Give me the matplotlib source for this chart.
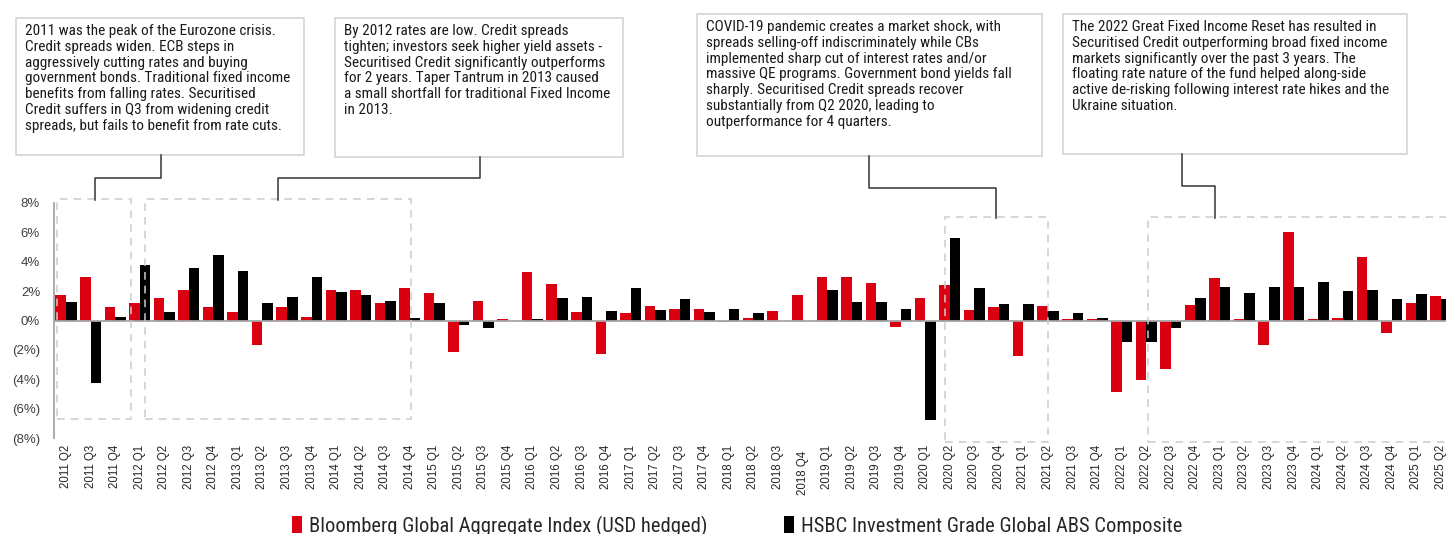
import matplotlib
matplotlib.use("Agg")
import matplotlib.pyplot as plt
from matplotlib.patches import Rectangle
from matplotlib.lines import Line2D
from matplotlib.transforms import ScaledTranslation
import numpy as np

plt.rcParams["font.family"] = ["Liberation Sans", "DejaVu Sans"]

# quarterly returns (%), 2011 Q2 .. 2025 Q2
quarters = ["2011 Q2", "2011 Q3", "2011 Q4"]
for yr in range(2012, 2025):
    quarters += ["%d Q%d" % (yr, q) for q in range(1, 5)]
quarters += ["2025 Q1", "2025 Q2"]

bbg_agg = [1.75, 2.95, 0.89, 1.2, 1.52, 2.05, 0.89, 0.57, -1.66, 0.89, 0.27, 2.05, 2.05,
           1.2, 2.2, 1.89, -2.14, 1.34, 0.11, 3.3, 2.5, 0.57, -2.27, 0.5, 1.02, 0.8, 0.8,
           -0.11, 0.18, 0.64, 1.73, 2.95, 2.95, 2.57, -0.41, 1.52, 2.43, 0.73, 0.89, -2.43,
           1.02, 0.11, 0.11, -4.9, -4.05, -3.3, 1.05, 2.89, 0.11, -1.7, 6.0, 0.11, 0.18,
           4.3, -0.86, 1.2, 1.66]
hsbc_abs = [1.25, -4.27, 0.27, 3.75, 0.57, 3.59, 4.45, 3.36, 1.18, 1.59, 2.95, 1.95, 1.73,
            1.34, 0.18, 1.2, -0.34, -0.5, 0.0, 0.1, 1.52, 1.59, 0.64, 2.2, 0.73, 1.43, 0.57,
            0.8, 0.5, 0.0, 0.0, 2.05, 1.25, 1.25, 0.8, -6.75, 5.61, 2.2, 1.11, 1.11,
            0.64, 0.5, 0.18, -1.43, -1.43, -0.5, 1.52, 2.27, 1.89, 2.27, 2.27, 2.59, 1.98,
            2.05, 1.43, 1.8, 1.43]

series_names = ["Bloomberg Global Aggregate Index (USD hedged)",
                "HSBC Investment Grade Global ABS Composite"]

notes = [
    "2011 was the peak of the Eurozone crisis.\nCredit spreads widen. ECB steps in\n"
    "aggressively cutting rates and buying\ngovernment bonds. Traditional fixed income\n"
    "benefits from falling rates. Securitised\nCredit suffers in Q3 from widening credit\n"
    "spreads, but fails to benefit from rate cuts.",
    "By 2012 rates are low. Credit spreads\ntighten; investors seek higher yield assets -\n"
    "Securitised Credit significantly outperforms\nfor 2 years. Taper Tantrum in 2013 caused\n"
    "a small shortfall for traditional Fixed Income\nin 2013.",
    "COVID-19 pandemic creates a market shock, with\nspreads selling-off indiscriminately while CBs\n"
    "implemented sharp cut of interest rates and/or\nmassive QE programs. Government bond yields fall\n"
    "sharply. Securitised Credit spreads recover\nsubstantially from Q2 2020, leading to\n"
    "outperformance for 4 quarters.",
    "The 2022 Great Fixed Income Reset has resulted in\nSecuritised Credit outperforming broad fixed income\n"
    "markets significantly over the past 3 years. The\nfloating rate nature of the fund helped along-side\n"
    "active de-risking following interest rate hikes and the\nUkraine situation.",
]

RED = "#DB0011"
W, H = 1446, 534
NARROW = ["Liberation Sans Narrow", "Roboto Condensed", "Liberation Sans", "DejaVu Sans"]

fig = plt.figure(figsize=(W / 100, H / 100), dpi=100)

def fx(px):
    return px / W

def fy(py):
    return 1 - py / H

ax = fig.add_axes([fx(54), fy(438), fx(1446 - 54), (438 - 203) / H])
x = np.arange(len(quarters))
bw = 0.43
ax.bar(x - bw / 2, bbg_agg, width=bw, color=RED, label=series_names[0], zorder=2)
ax.bar(x + bw / 2, hsbc_abs, width=bw, color="black", label=series_names[1], zorder=2)
ax.axhline(0, color="#a6a6a6", lw=1.3, zorder=3)

ax.set_xlim(-0.49, 56.21)
ax.set_ylim(-8, 8)
ax.set_yticks(range(-8, 9, 2))
ax.set_yticklabels([("(%d%%)" % -v) if v < 0 else ("%d%%" % v) for v in range(-8, 9, 2)])
ax.set_xticks(x)
ax.set_xticklabels(quarters, rotation=90, fontsize=8.3, color="#262626")
ax.tick_params(axis="y", length=0, pad=10, labelsize=9.5, labelcolor="#404040")
ax.tick_params(axis="x", length=0, pad=5)
for s in ["top", "right", "bottom"]:
    ax.spines[s].set_visible(False)
ax.spines["left"].set_color("#a6a6a6")
ax.spines["left"].set_linewidth(1.3)

# odd label in the source sits lower than the rest
lab = ax.get_xticklabels()[quarters.index("2018 Q4")]
lab.set_transform(lab.get_transform() + ScaledTranslation(0, -0.06, fig.dpi_scale_trans))

# dashed period boxes
periods = [(-0.37, 2.65, -6.7, 8.3), (3.22, 14.05, -6.7, 8.3),
           (35.8, 40.0, -8.26, 7.07), (44.06, 57.5, -8.26, 7.07)]
for x0, x1, y0, y1 in periods:
    ax.add_patch(Rectangle((x0, y0), x1 - x0, y1 - y0, fill=False, ec="#cccccc",
                           lw=1.1, ls=(0, (5, 4)), clip_on=False, zorder=4))

# annotation boxes (pixel coords of the source layout)
boxes = [(16, 18, 304, 155), (335, 18, 623, 157), (697, 14, 1042, 156), (1063, 14, 1407, 154)]
for (l, t, r, b), txt in zip(boxes, notes):
    fig.patches.append(Rectangle((fx(l), fy(b)), fx(r - l), (b - t) / H, transform=fig.transFigure,
                                 fill=True, fc="white", ec="#d4d4d4", lw=1.2))
    fig.text(fx(l + 9), fy(t + 6), txt, ha="left", va="top", fontsize=11,
             family=NARROW, color="#1a1a1a", linespacing=1.16)

connectors = [
    [(161, 155), (161, 178), (95, 178), (95, 200)],
    [(480, 157), (480, 178), (278, 178), (278, 200)],
    [(869, 156), (869, 188), (996, 188), (996, 218)],
    [(1182, 154), (1182, 186), (1215, 186), (1215, 218)],
]
for pts in connectors:
    xs = [fx(p[0]) for p in pts]
    ys = [fy(p[1]) for p in pts]
    fig.lines.append(Line2D(xs, ys, transform=fig.transFigure, color="#333333", lw=1.1))

leg = fig.legend(loc="center", bbox_to_anchor=(fx(737), fy(526)), ncol=2, frameon=False,
                 handlelength=0.5, handleheight=0.9, handletextpad=0.35, columnspacing=3.7,
                 prop={"family": NARROW, "size": 14.8})
for t in leg.get_texts():
    t.set_color("#262626")

fig.savefig("out.png", dpi=100)
